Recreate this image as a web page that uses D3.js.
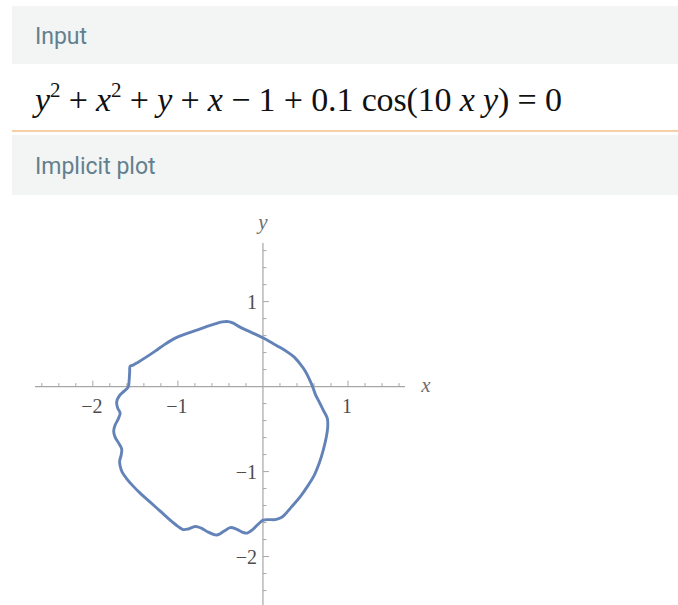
<!DOCTYPE html>
<html>
<head>
<meta charset="utf-8">
<script src="https://cdn.jsdelivr.net/npm/d3@7/dist/d3.min.js"></script>
<style>
  html, body { margin: 0; padding: 0; background: #ffffff; }
  svg { display: block; }
</style>
</head>
<body>
<svg id="chart" width="678" height="605"></svg>
<script>
// Closed level curve y^2 + x^2 + y + x - 1 + 0.1 cos(10xy) = 0, traced as (x, y) pairs
const curveX = [
  -1.561, -1.567, -1.573, -1.585, -1.632, -1.691, -1.720, -1.708, -1.679, -1.702,
  -1.738, -1.755, -1.738, -1.696, -1.661, -1.667, -1.685, -1.679, -1.655, -1.608,
  -1.526, -1.432, -1.326, -1.208, -1.091, -0.996, -0.938, -0.879, -0.796, -0.726,
  -0.644, -0.544, -0.455, -0.385, -0.314, -0.244, -0.185, -0.114, -0.055, 0.004,
  0.062, 0.145, 0.204, 0.251, 0.333, 0.439, 0.533, 0.604, 0.662, 0.709,
  0.745, 0.762, 0.756, 0.709, 0.662, 0.615, 0.586, 0.545, 0.498, 0.439,
  0.368, 0.298, 0.204, 0.109, 0.004, -0.091, -0.196, -0.291, -0.349, -0.408,
  -0.479, -0.573, -0.679, -0.796, -0.914, -1.032, -1.150, -1.267, -1.373, -1.467,
  -1.526
];
const curveY = [
  0.241, 0.171, 0.076, -0.006, -0.053, -0.112, -0.182, -0.253, -0.312, -0.382,
  -0.453, -0.524, -0.594, -0.665, -0.735, -0.806, -0.876, -0.935, -1.006, -1.076,
  -1.171, -1.265, -1.359, -1.465, -1.571, -1.647, -1.682, -1.676, -1.647, -1.665,
  -1.712, -1.747, -1.700, -1.659, -1.676, -1.712, -1.724, -1.676, -1.618, -1.571,
  -1.565, -1.565, -1.547, -1.512, -1.418, -1.294, -1.159, -1.041, -0.900, -0.747,
  -0.594, -0.465, -0.371, -0.276, -0.182, -0.088, -0.006, 0.088, 0.182, 0.265,
  0.347, 0.400, 0.459, 0.512, 0.571, 0.618, 0.665, 0.712, 0.747, 0.765,
  0.761, 0.735, 0.700, 0.659, 0.618, 0.571, 0.500, 0.418, 0.347, 0.288,
  0.253
];

// Axis ticks
const xMajorTicks = [-2, -1, 1];
const yMajorTicks = [-2, -1, 1];
const xMinorTicks = [-2.6, -2.4, -2.2, -1.8, -1.6, -1.4, -1.2, -0.8, -0.6, -0.4, -0.2,
                     0.2, 0.4, 0.6, 0.8, 1.2, 1.4, 1.6];
const yMinorTicks = [-2.4, -2.2, -1.8, -1.6, -1.4, -1.2, -0.8, -0.6, -0.4, -0.2,
                     0.2, 0.4, 0.6, 0.8, 1.2, 1.4, 1.6];
const xDomain = [-2.68, 1.67];
const yDomain = [-2.57, 1.69];

const svg = d3.select("#chart");

// ---- Header panels ----
const headFont = "Roboto, 'Open Sans', sans-serif";
const headColor = "#62808e";

svg.append("rect").attr("x", 12).attr("y", 6).attr("width", 666).attr("height", 58)
  .attr("fill", "#f3f4f4");
svg.append("text").attr("x", 35).attr("y", 44)
  .attr("font-family", headFont).attr("font-size", 23).attr("fill", headColor)
  .text("Input");

// Formula line
const formula = svg.append("text")
  .attr("x", 35).attr("y", 111)
  .attr("font-family", "'Liberation Serif', 'DejaVu Serif', serif")
  .attr("font-size", 34).attr("fill", "#111");

const parts = [
  ["y", "i"], ["2", "sup"], [" + ", ""], ["x", "i"], ["2", "sup"], [" + ", ""],
  ["y", "i"], [" + ", ""], ["x", "i"], [" \u2212 1 + 0.1 cos(10 ", ""],
  ["x", "i"], [" ", ""], ["y", "i"], [") = 0", ""]
];
let shifted = false;
parts.forEach(([t, k]) => {
  const ts = formula.append("tspan").text(t);
  if (k === "i") ts.attr("font-style", "italic");
  if (k === "sup") {
    ts.attr("font-size", 21).attr("dy", -14);
    shifted = true;
  } else if (shifted) {
    ts.attr("dy", 14);
    shifted = false;
  }
});
formula.attr("textLength", 527).attr("lengthAdjust", "spacing");

svg.append("rect").attr("x", 12).attr("y", 130).attr("width", 666).attr("height", 2)
  .attr("fill", "#f7cfa6");

svg.append("rect").attr("x", 12).attr("y", 135).attr("width", 666).attr("height", 60)
  .attr("fill", "#f3f4f4");
svg.append("text").attr("x", 35).attr("y", 174)
  .attr("font-family", headFont).attr("font-size", 23).attr("fill", headColor)
  .text("Implicit plot");

// ---- Plot ----
const x = d3.scaleLinear().domain(xDomain).range([35, 405]);
const y = d3.scaleLinear().domain(yDomain).range([605, 243]);

const axisColor = "#a6a6a6";
const labelFont = "'Liberation Serif', 'DejaVu Serif', serif";
const labelColor = "#4d4d4d";
const g = svg.append("g");

// Axis lines
g.append("line").attr("x1", x(xDomain[0])).attr("x2", x(xDomain[1]))
  .attr("y1", y(0)).attr("y2", y(0))
  .attr("stroke", axisColor).attr("stroke-width", 1.2);
g.append("line").attr("x1", x(0)).attr("x2", x(0))
  .attr("y1", y(yDomain[0])).attr("y2", y(yDomain[1]))
  .attr("stroke", axisColor).attr("stroke-width", 1.2);

// x ticks (pointing up)
g.selectAll(".xminor").data(xMinorTicks).join("line")
  .attr("x1", d => x(d)).attr("x2", d => x(d))
  .attr("y1", y(0)).attr("y2", y(0) - 3.5)
  .attr("stroke", axisColor).attr("stroke-width", 1);
g.selectAll(".xmajor").data(xMajorTicks).join("line")
  .attr("x1", d => x(d)).attr("x2", d => x(d))
  .attr("y1", y(0)).attr("y2", y(0) - 6)
  .attr("stroke", axisColor).attr("stroke-width", 1);
g.selectAll(".xlab").data(xMajorTicks).join("text")
  .attr("x", d => x(d) - 1).attr("y", y(0) + 26)
  .attr("text-anchor", "middle")
  .attr("font-family", labelFont).attr("font-size", 20).attr("fill", labelColor)
  .text(d => d < 0 ? "\u2212" + Math.abs(d) : d);

// y ticks (pointing right)
g.selectAll(".yminor").data(yMinorTicks).join("line")
  .attr("x1", x(0)).attr("x2", x(0) + 3.5)
  .attr("y1", d => y(d)).attr("y2", d => y(d))
  .attr("stroke", axisColor).attr("stroke-width", 1);
g.selectAll(".ymajor").data(yMajorTicks).join("line")
  .attr("x1", x(0)).attr("x2", x(0) + 6)
  .attr("y1", d => y(d)).attr("y2", d => y(d))
  .attr("stroke", axisColor).attr("stroke-width", 1);
g.selectAll(".ylab").data(yMajorTicks).join("text")
  .attr("x", x(0) - 6).attr("y", d => y(d) + 7)
  .attr("text-anchor", "end")
  .attr("font-family", labelFont).attr("font-size", 20).attr("fill", labelColor)
  .text(d => d < 0 ? "\u2212" + Math.abs(d) : d);

// Axis names
g.append("text").attr("x", x(xDomain[1]) + 21).attr("y", y(0) + 5)
  .attr("text-anchor", "middle")
  .attr("font-family", labelFont).attr("font-style", "italic")
  .attr("font-size", 21).attr("fill", "#6e6e6e").text("x");
g.append("text").attr("x", x(0)).attr("y", y(yDomain[1]) - 14)
  .attr("text-anchor", "middle")
  .attr("font-family", labelFont).attr("font-style", "italic")
  .attr("font-size", 21).attr("fill", "#6e6e6e").text("y");

// Curve
const pts = curveX.map((d, i) => [d, curveY[i]]);
const line = d3.line()
  .x(d => x(d[0])).y(d => y(d[1]))
  .curve(d3.curveCatmullRomClosed.alpha(0.5));
g.append("path").attr("d", line(pts))
  .attr("fill", "none").attr("stroke", "#6383b8")
  .attr("stroke-width", 2.9).attr("stroke-linejoin", "round");
</script>
</body>
</html>
